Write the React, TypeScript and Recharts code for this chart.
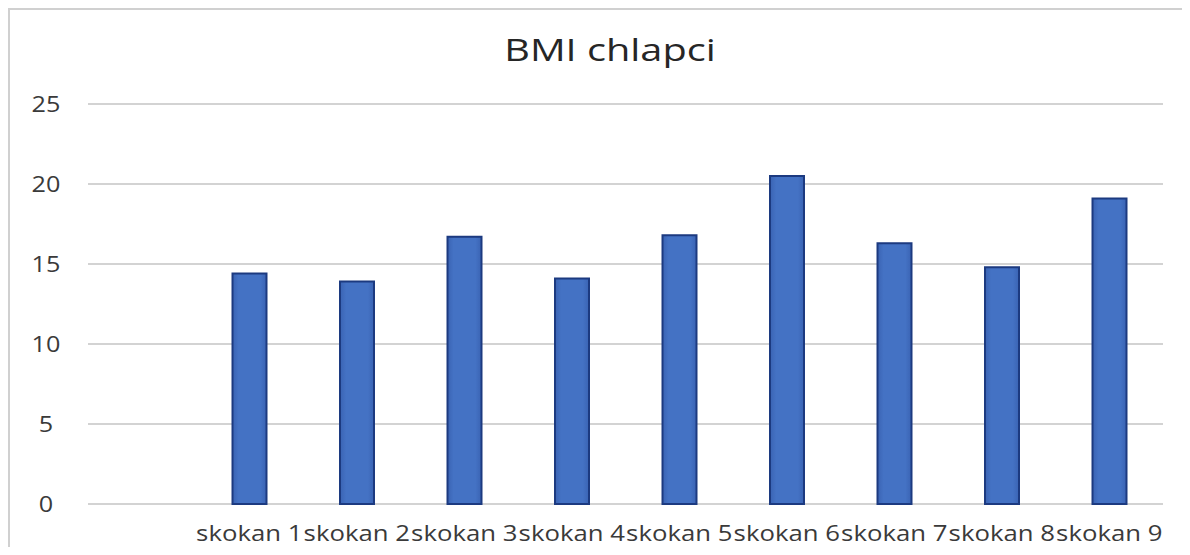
import React from "react";
import { BarChart, Bar, XAxis, YAxis, CartesianGrid } from "recharts";

// jumpers and their BMI; the first slot is left empty on purpose
const jumpers = ["", "skokan 1", "skokan 2", "skokan 3", "skokan 4", "skokan 5", "skokan 6", "skokan 7", "skokan 8", "skokan 9"];
const bmiValues = [null, 14.4, 13.9, 16.7, 14.1, 16.8, 20.5, 16.3, 14.8, 19.1];
const yTicks = [0, 5, 10, 15, 20, 25];

const data = jumpers.map((name, i) => ({ name, bmi: bmiValues[i] }));

const FONT = "'Open Sans', sans-serif";
const TEXT = "#3a3a3a";

const XTick = (props: any) => {
  const { x, y, payload } = props;
  return (
    <g transform={`translate(${x},${y + 37}) scale(1.17,1)`}>
      <text textAnchor="middle" fontFamily={FONT} fontSize={22} fill={TEXT}>
        {payload.value}
      </text>
    </g>
  );
};

const YTick = (props: any) => {
  const { x, y, payload } = props;
  return (
    <g transform={`translate(${x - 42},${y + 7.5}) scale(1.2,1)`}>
      <text textAnchor="middle" fontFamily={FONT} fontSize={21} fill={TEXT}>
        {payload.value}
      </text>
    </g>
  );
};

export default function App() {
  return (
    <div
      style={{
        position: "relative",
        width: 1180,
        height: 537,
        borderTop: "2px solid #d0d0d0",
        borderLeft: "2px solid #d0d0d0",
        background: "#fff",
      }}
    >
      <div
        style={{
          position: "absolute",
          top: 24,
          left: 0,
          width: 1200,
          textAlign: "center",
          fontFamily: FONT,
          fontSize: 31,
          lineHeight: "30px",
          color: "#262626",
          transform: "scaleX(1.28)",
        }}
      >
        BMI chlapci
      </div>
      <BarChart width={1180} height={537} data={data} margin={{ top: 94, right: 27, bottom: 3, left: 0 }}>
        <defs>
          {/* slight darkening towards the bar edges */}
          <linearGradient id="barFill" x1="0" y1="0" x2="1" y2="0">
            <stop offset="0%" stopColor="#3a63b3" />
            <stop offset="18%" stopColor="#4472C4" />
            <stop offset="82%" stopColor="#4472C4" />
            <stop offset="100%" stopColor="#3a63b3" />
          </linearGradient>
        </defs>
        <CartesianGrid vertical={false} stroke="#c4c4c4" strokeWidth={1.5} />
        <XAxis
          dataKey="name"
          axisLine={false}
          tickLine={false}
          tickSize={0}
          tickMargin={0}
          interval={0}
          height={40}
          tick={<XTick />}
        />
        <YAxis
          domain={[0, 25]}
          ticks={yTicks}
          axisLine={false}
          tickLine={false}
          tickSize={0}
          tickMargin={0}
          width={78}
          tick={<YTick />}
        />
        <Bar dataKey="bmi" fill="url(#barFill)" stroke="#1c3a80" strokeWidth={2} barSize={34} isAnimationActive={false} />
      </BarChart>
    </div>
  );
}
